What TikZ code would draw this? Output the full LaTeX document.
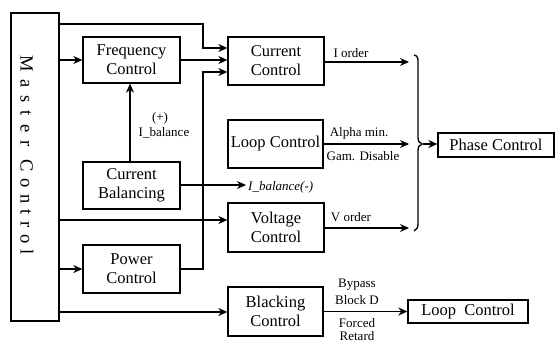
\documentclass[tikz,border=0pt]{standalone}
\usepackage{fontspec}
\setmainfont{Liberation Serif}
\newfontfamily\tnr{Liberation Serif}
\usetikzlibrary{arrows.meta,calc}
\newcommand\lsA{\kern 8pt}
\newcommand\lsB{\kern 6.5pt}
\begin{document}
\begin{tikzpicture}[x=1pt,y=-1pt,
  blk/.style={draw,line width=1.3pt,inner sep=0pt,align=center,
    font=\tnr\fontsize{16.5}{19}\selectfont},
  lbl/.style={inner sep=0pt,font=\tnr\fontsize{13}{15}\selectfont},
  conn/.style={line width=1.4pt},
  arr/.style={line width=1.4pt,-{Stealth[length=9pt,width=8pt]}}]
\useasboundingbox (0,0) rectangle (556,343);

\node[blk,minimum width=48pt,minimum height=308pt] (Master) at (35,167) {};
\node[inner sep=0pt,rotate=-90,font=\tnr\fontsize{18.5}{20}\selectfont] (MasterT) at (27,155)
  {M\lsA a\lsA s\lsA t\lsA e\lsA r\kern 13pt C\lsB o\lsB n\lsB t\lsB r\lsB o\lsB l};

\node[blk,minimum width=97pt,minimum height=46pt] (Freq) at (131.5,60) {Frequency\\Control};
\node[blk,minimum width=97pt,minimum height=47pt] (CurBal) at (131.5,185.5) {Current\\Balancing};
\node[blk,minimum width=97pt,minimum height=48pt] (Power) at (131.5,269) {Power\\Control};
\node[blk,minimum width=96pt,minimum height=48pt] (CurCtl) at (276,61) {Current\\Control};
\node[blk,minimum width=95pt,minimum height=48pt] (LoopM) at (275.5,144) {Loop Control};
\node[blk,minimum width=96pt,minimum height=49pt] (Volt) at (276,227.5) {Voltage\\Control};
\node[blk,minimum width=95pt,minimum height=49pt] (Black) at (275.5,311.5) {Blacking\\Control};
\node[blk,minimum width=116pt,minimum height=24pt] (Phase) at (496,145) {Phase Control};
\node[blk,minimum width=120pt,minimum height=23pt] (LoopB) at (468,311.5) {Loop\ \ Control};

% brace
\draw[line width=1.3pt] (414,55) .. controls (418,56) and (418,58) .. (418,63)
  -- (418,137) .. controls (418,141) and (419,143) .. (422,144)
  .. controls (419,145) and (418,147) .. (418,151)
  -- (418,223) .. controls (418,228) and (417,229) .. (414,231);
\coordinate (Tip) at (423,144);

% Master outputs
\draw[arr] (Master.east |- 0,24) -- (203,24) -- (203,48) -- (CurCtl.west |- 0,48);
\draw[arr] (Master.east |- Freq.west) -- (Freq.west);
\draw[arr] (Master.east |- 0,220) -- (Volt.west |- 0,220);
\draw[arr] (Master.east |- Power.west) -- (Power.west);
\draw[arr] (Master.east |- 0,312) -- (Black.west |- 0,312);

% into current control
\draw[arr] (Freq.east) -- (CurCtl.west |- Freq.east);
\draw[arr] (Power.east) -- (203,269) -- (203,72) -- (CurCtl.west |- 0,72);

% current balancing
\draw[arr] (CurBal.north -| 130,0) -- (Freq.south -| 130,0);
\node[lbl] (Plus) at (160,118) {(+)};
\node[lbl] (Ibal) at (164,133) {I\_balance};
\coordinate (BalEnd) at (246,185);
\draw[arr] (CurBal.east |- BalEnd) -- (BalEnd);
\node[lbl,anchor=west,font=\tnr\fontsize{13}{15}\selectfont\itshape] (BalLbl) at (248,187) {I\_balance(-)};

% orders to brace
\coordinate (B1) at (409,62);
\coordinate (B2) at (409,144);
\coordinate (B3) at (409,228);
\draw[arr] (CurCtl.east |- B1) -- (B1);
\node[lbl] (IOrd) at (351,53) {I order};
\draw[arr] (LoopM.east |- B2) -- (B2);
\node[lbl] (Alpha) at (359,133) {Alpha min.};
\node[lbl] (Gam) at (363,156) {Gam. Disable};
\draw[arr] (Volt.east |- B3) -- (B3);
\node[lbl] (VOrd) at (351,217) {V order};

\draw[arr] (Tip) -- (Phase.west |- Tip);

% blacking
\draw[arr] (Black.east |- LoopB.west) -- (LoopB.west);
\node[lbl] (Byp) at (357,285) {Bypass};
\node[lbl] (BlkD) at (357,300) {Block D};
\node[lbl] (Forc) at (357,323) {Forced};
\node[lbl] (Ret) at (357,336) {Retard};
\end{tikzpicture}
\end{document}
